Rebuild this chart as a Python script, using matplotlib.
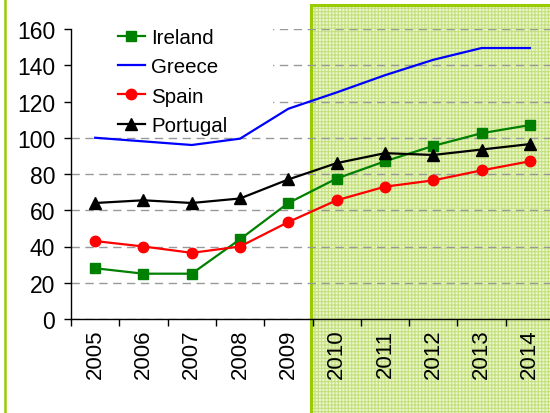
import numpy as np
import matplotlib
matplotlib.use("Agg")
import matplotlib.pyplot as plt
from matplotlib.patches import Rectangle
from matplotlib.lines import Line2D

plt.rcParams['font.family'] = ['Liberation Sans', 'DejaVu Sans']
plt.rcParams['hatch.linewidth'] = 0.8

years = ['2005', '2006', '2007', '2008', '2009', '2010', '2011', '2012', '2013', '2014']
ireland = [28, 25, 25, 44, 64, 77.5, 87, 95.5, 102.5, 107]
greece = [100, 98, 96, 99.5, 116, 125, 134.5, 143, 149.5, 149.5]
spain = [43, 40, 36.5, 40, 53.5, 65.5, 73, 76.5, 82, 87]
portugal = [64, 65.5, 64, 66.5, 77, 86, 91.5, 90.5, 93.5, 96.5]
yticks = [0, 20, 40, 60, 80, 100, 120, 140, 160]

W, H = 550, 414
fig = plt.figure(figsize=(5.5, 4.14), dpi=100)

# green hatched zone for the forecast years (figure coords)
x0, ytop = 311 / W, 1 - 5.7 / H
fig.patches.append(Rectangle((x0, -0.05), 1.1 - x0, ytop + 0.05, transform=fig.transFigure,
                             facecolor='#ecf6cc', edgecolor='#c4e07e', hatch='+++++',
                             linewidth=0, zorder=-2))
fig.patches.append(Rectangle((x0, -0.05), 1.1 - x0, ytop + 0.05, transform=fig.transFigure,
                             facecolor='none', edgecolor='#99cc00', linewidth=2.2, zorder=-1))
# left border of the chart area
fig.lines.append(Line2D([5.3 / W, 5.3 / W], [0, 1], transform=fig.transFigure,
                        color='#99cc00', linewidth=1.8, zorder=-1))

ax = fig.add_axes([71 / W, 1 - 320 / H, 483 / W, 290 / H])
ax.patch.set_alpha(0)

x = np.arange(len(years)) + 0.5
ax.plot(x, ireland, color='#008000', marker='s', markersize=7, linewidth=1.6, label='Ireland', zorder=3)
ax.plot(x, greece, color='#0000ff', linewidth=1.6, label='Greece', zorder=3)
ax.plot(x, spain, color='#ff0000', marker='o', markersize=7.5, linewidth=1.6, label='Spain', zorder=3)
ax.plot(x, portugal, color='black', marker='^', markersize=8, linewidth=1.6, label='Portugal', zorder=3)

ax.set_xlim(0, len(years))
ax.set_ylim(0, 160)
ax.set_yticks(yticks)
ax.set_xticks(x)
ax.set_xticklabels(years, rotation=90)
ax.set_xticks(np.arange(len(years) + 1), minor=True)
ax.tick_params(axis='x', which='major', length=0, pad=7, labelsize=16)
ax.tick_params(axis='x', which='minor', length=5, width=1, direction='out')
ax.tick_params(axis='y', length=5, width=1, pad=6.5, labelsize=16.5)

ax.set_axisbelow(True)
ax.yaxis.grid(True, color='#999999', linestyle=(0, (6, 4)), linewidth=1)
for s in ['top', 'right']:
    ax.spines[s].set_visible(False)
for s in ['left', 'bottom']:
    ax.spines[s].set_linewidth(1)

# white box behind the legend hides the grid there
ax.add_patch(Rectangle((0, 104), (273 - 71) / 48.3, 70, facecolor='white',
                       edgecolor='none', zorder=1, clip_on=False))

ax.legend(loc='upper left', bbox_to_anchor=(118 / W, 1 - 29 / H), bbox_transform=fig.transFigure,
          frameon=False, borderpad=0, borderaxespad=0, fontsize=14.8, handlelength=1.3,
          handletextpad=0.3, labelspacing=0.5)

fig.savefig('out.png', dpi=100)
